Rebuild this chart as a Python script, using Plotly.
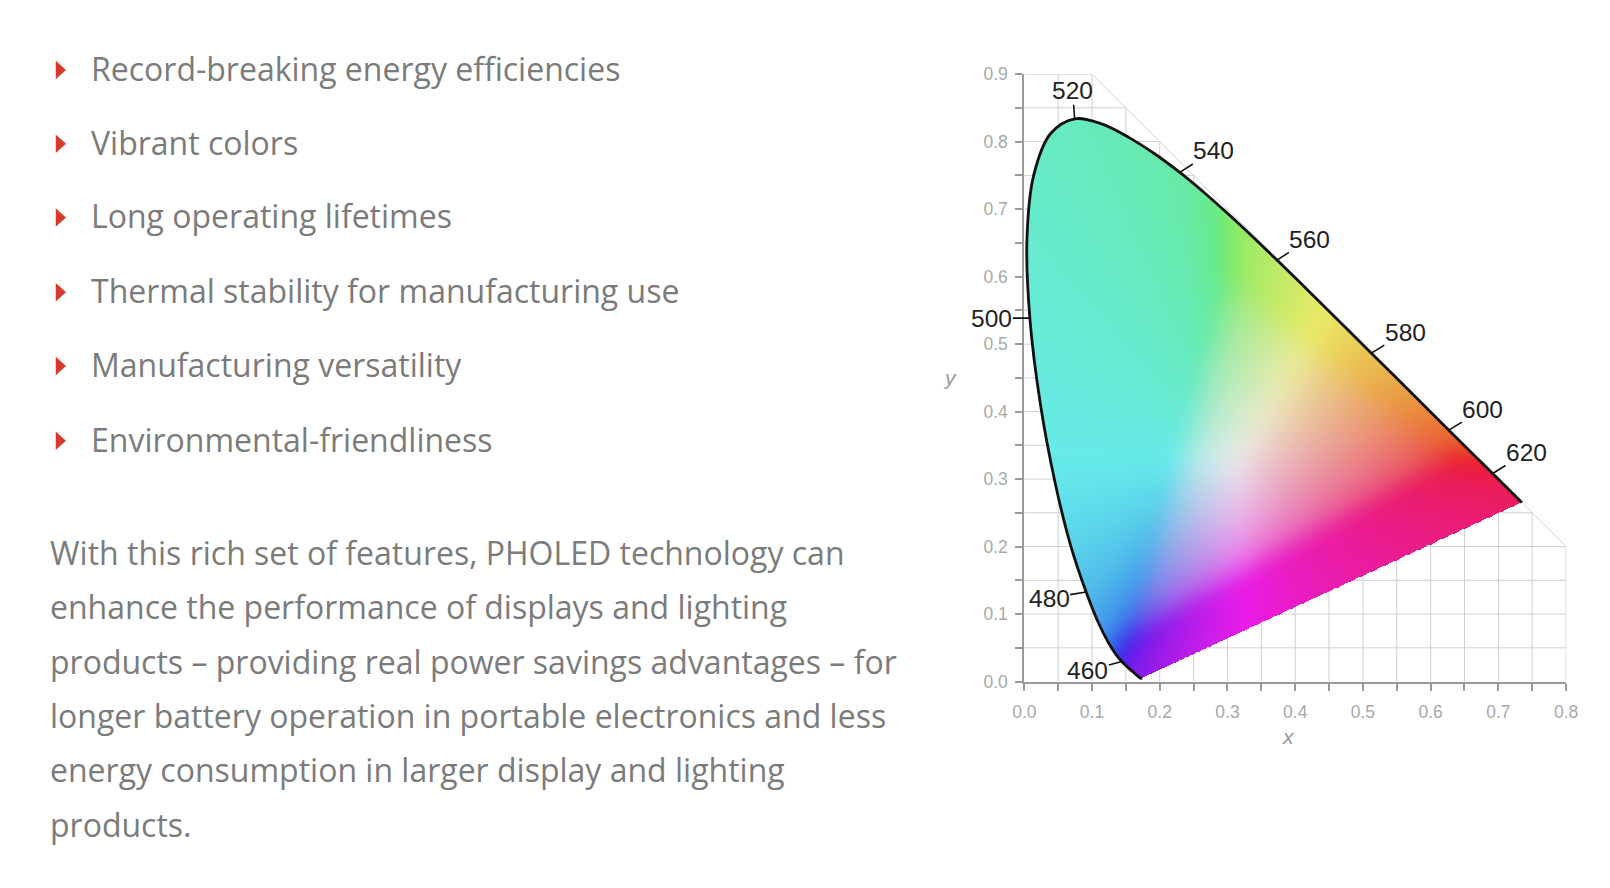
import base64
import struct
import zlib

import numpy as np
import plotly.graph_objects as go

W, H, OFF = 1600, 880, 8

# CIE 1931 2-degree spectral locus, 5 nm steps
wavelength = list(range(380, 705, 5))
cie_x = [0.1741, 0.1740, 0.1738, 0.1736, 0.1733, 0.1730, 0.1726, 0.1721, 0.1714, 0.1703,
         0.1689, 0.1669, 0.1644, 0.1611, 0.1566, 0.1510, 0.1440, 0.1355, 0.1241, 0.1096,
         0.0913, 0.0687, 0.0454, 0.0235, 0.0082, 0.0039, 0.0139, 0.0389, 0.0743, 0.1142,
         0.1547, 0.1929, 0.2296, 0.2658, 0.3016, 0.3373, 0.3731, 0.4087, 0.4441, 0.4788,
         0.5125, 0.5448, 0.5752, 0.6029, 0.6270, 0.6482, 0.6658, 0.6801, 0.6915, 0.7006,
         0.7079, 0.7140, 0.7190, 0.7230, 0.7260, 0.7283, 0.7300, 0.7311, 0.7320, 0.7327,
         0.7334, 0.7340, 0.7344, 0.7346, 0.7347]
cie_y = [0.0050, 0.0050, 0.0049, 0.0049, 0.0048, 0.0048, 0.0048, 0.0048, 0.0051, 0.0058,
         0.0069, 0.0086, 0.0109, 0.0138, 0.0177, 0.0227, 0.0297, 0.0399, 0.0578, 0.0868,
         0.1327, 0.2007, 0.2950, 0.4127, 0.5384, 0.6548, 0.7502, 0.8120, 0.8338, 0.8262,
         0.8059, 0.7816, 0.7543, 0.7243, 0.6923, 0.6589, 0.6245, 0.5896, 0.5547, 0.5202,
         0.4866, 0.4544, 0.4242, 0.3965, 0.3725, 0.3514, 0.3340, 0.3197, 0.3083, 0.2993,
         0.2920, 0.2859, 0.2809, 0.2770, 0.2740, 0.2717, 0.2700, 0.2689, 0.2680, 0.2673,
         0.2666, 0.2660, 0.2656, 0.2654, 0.2653]

label_nm = [460, 480, 500, 520, 540, 560, 580, 600, 620]
label_shift = [(-34, 9), (-37, 6), (-38, 0), (-2, -28), (34, -22), (33, -21), (34, -21), (34, -21), (34, -21)]

grid_step = [round(0.05 * k, 2) for k in range(1, 19)]

bullets = ["Record-breaking energy efficiencies",
           "Vibrant colors",
           "Long operating lifetimes",
           "Thermal stability for manufacturing use",
           "Manufacturing versatility",
           "Environmental-friendliness"]
bullet_y = [66, 138, 210, 283, 355, 428]

para = ["With this rich set of features, PHOLED technology can",
        "enhance the performance of displays and lighting",
        "products \u2013 providing real power savings advantages \u2013 for",
        "longer battery operation in portable electronics and less",
        "energy consumption in larger display and lighting",
        "products."]
para_y = [539, 592, 645, 698, 751, 804]


# positions below are in screenshot pixels; mapped to paper with a measured offset/scale
def px(x):
    return ((x - 9.5) / 0.96 - OFF) / W


def py(y):
    return 1 - ((y - 7.6) / 0.954 - OFF) / H


# colour fill of the gamut, rendered as a png
res = 0.00125
gx = (np.arange(int(round(0.8 / res))) + 0.5) * res
gy = (np.arange(int(round(0.9 / res))) + 0.5) * res
GX, GY = np.meshgrid(gx, gy)

# smooth outline for the mask (catmull-rom through the locus points)
pts = np.column_stack([cie_x, cie_y])
sx, sy = [], []
for i in range(len(pts) - 1):
    p0 = pts[max(i - 1, 0)]
    p1, p2 = pts[i], pts[i + 1]
    p3 = pts[min(i + 2, len(pts) - 1)]
    for t in np.linspace(0, 1, 8, endpoint=False):
        c = 0.5 * (2 * p1 + (p2 - p0) * t + (2 * p0 - 5 * p1 + 4 * p2 - p3) * t ** 2
                   + (3 * p1 - p0 - 3 * p2 + p3) * t ** 3)
        sx.append(c[0])
        sy.append(c[1])
sx.append(cie_x[-1])
sy.append(cie_y[-1])

inside = np.zeros(GX.shape, bool)
n = len(sx)
j = n - 1
for i in range(n):
    xi, yi, xj, yj = sx[i], sy[i], sx[j], sy[j]
    cross = (yi > GY) != (yj > GY)
    xint = (xj - xi) * (GY - yi) / (yj - yi + 1e-12) + xi
    inside ^= cross & (GX < xint)
    j = i

yy = np.maximum(GY, 2e-3)
XX = GX / yy
ZZ = (1 - GX - GY) / yy
M = np.array([[3.2406, -1.5372, -0.4986],
              [-0.9689, 1.8758, 0.0415],
              [0.0557, -0.2040, 1.0570]])
rgb = np.stack([M[k, 0] * XX + M[k, 1] + M[k, 2] * ZZ for k in range(3)], -1)
rgb -= np.minimum(rgb.min(-1), 0)[..., None]
rgb /= rgb.max(-1, keepdims=True)
srgb = np.where(rgb <= 0.0031308, 12.92 * rgb, 1.055 * np.power(rgb, 1 / 2.4) - 0.055)
mix = 0.12 + 0.32 * srgb[..., 1:2]
srgb = (srgb * (1 - mix) + mix) * 0.92


def blur(a, s):
    r = int(3 * s)
    k = np.exp(-0.5 * (np.arange(-r, r + 1) / s) ** 2)
    k /= k.sum()
    p = np.pad(a, ((r, r), (0, 0), (0, 0)), mode="edge")
    a = sum(k[i] * p[i:i + a.shape[0]] for i in range(2 * r + 1))
    p = np.pad(a, ((0, 0), (r, r), (0, 0)), mode="edge")
    return sum(k[i] * p[:, i:i + a.shape[1]] for i in range(2 * r + 1))


srgb = blur(srgb, 11)
img = np.zeros(GX.shape + (4,), np.uint8)
img[..., :3] = np.clip(srgb * 255, 0, 255).astype(np.uint8)
img[..., 3] = np.where(inside, 255, 0)


def png_uri(a):
    h, w, _ = a.shape
    f = a.copy()
    f[:, 1:, :] = a[:, 1:, :] - a[:, :-1, :]
    raw = b"".join(b"\x01" + f[r].tobytes() for r in range(h))

    def chunk(tag, data):
        return (struct.pack(">I", len(data)) + tag + data
                + struct.pack(">I", zlib.crc32(tag + data) & 0xffffffff))

    png = (b"\x89PNG\r\n\x1a\n"
           + chunk(b"IHDR", struct.pack(">IIBBBBB", w, h, 8, 6, 0, 0, 0))
           + chunk(b"IDAT", zlib.compress(raw, 9))
           + chunk(b"IEND", b""))
    return "data:image/png;base64," + base64.b64encode(png).decode()


fig = go.Figure()
fig.add_trace(go.Image(source=png_uri(img), x0=res / 2, y0=res / 2, dx=res, dy=res,
                       hoverinfo="skip"))
fig.add_trace(go.Scatter(x=cie_x, y=cie_y, mode="lines",
                         line=dict(color="#111111", width=2.8, shape="spline", smoothing=1),
                         hoverinfo="skip", showlegend=False))

# grid clipped to x + y <= 1, drawn under the image
grid = dict(type="line", xref="x", yref="y", layer="below", line=dict(color="#cfcfcf", width=1))
for v in grid_step:
    if v <= 0.8:
        fig.add_shape(x0=v, x1=v, y0=0, y1=min(0.9, 1 - v), **grid)
    if v <= 0.9:
        fig.add_shape(x0=0, x1=min(0.8, 1 - v), y0=v, y1=v, **grid)
fig.add_shape(x0=0.1, x1=0.8, y0=0.9, y1=0.2, **grid)

for nm, (ax, ay) in zip(label_nm, label_shift):
    k = wavelength.index(nm)
    fig.add_annotation(x=cie_x[k], y=cie_y[k], xref="x", yref="y", text=str(nm),
                       showarrow=True, arrowhead=0, arrowwidth=1.6, arrowcolor="#111111",
                       ax=ax, ay=ay, standoff=0, borderpad=0,
                       font=dict(family="Liberation Sans, Arial", size=24.5, color="#222222"))

txt = dict(family="Open Sans", size=32, color="#7b7b7b")
for t, y in zip(bullets, bullet_y):
    fig.add_annotation(x=px(84), y=py(y - 1.5), xref="paper", yref="paper", text=t,
                       showarrow=False, xanchor="left", yanchor="middle", font=txt)
    fig.add_shape(type="path", xref="paper", yref="paper", fillcolor="#d63a2f", line_width=0,
                  path=f"M {px(52)} {py(y - 9)} L {px(62)} {py(y)} L {px(52)} {py(y + 9)} Z")
for t, y in zip(para, para_y):
    fig.add_annotation(x=px(44.5), y=py(y - 1.8), xref="paper", yref="paper", text=t,
                       showarrow=False, xanchor="left", yanchor="middle", font=txt)

axt = dict(family="Liberation Sans, Arial", size=21, color="#9a9a9a")
fig.add_annotation(x=px(1262), y=py(730), xref="paper", yref="paper", text="<i>x</i>",
                   showarrow=False, font=axt)
fig.add_annotation(x=px(924), y=py(366), xref="paper", yref="paper", text="<i>y</i>",
                   showarrow=False, font=axt)

tickstyle = dict(showgrid=False, zeroline=False, showline=True, linecolor="#9a9a9a", linewidth=2,
                 ticks="outside", ticklen=7, tickwidth=1.5, tickcolor="#9a9a9a",
                 tick0=0, dtick=0.1, tickformat=".1f",
                 tickfont=dict(family="Liberation Sans, Arial", size=17.5, color="#a8a8a8"),
                 minor=dict(dtick=0.05, ticks="outside", ticklen=7, tickwidth=1.5,
                            tickcolor="#9a9a9a", showgrid=False),
                 fixedrange=True)
fig.update_xaxes(domain=[px(996), px(1524)], range=[0, 0.8], autorange=False,
                 ticklabelstandoff=6, **tickstyle)
fig.update_yaxes(domain=[py(663), py(70)], range=[0, 0.9], autorange=False,
                 scaleanchor=False, ticklabelstandoff=4, **tickstyle)

fig.update_layout(width=W, height=H, margin=dict(l=0, r=0, t=0, b=0),
                  paper_bgcolor="white", plot_bgcolor="white", showlegend=False)

fig.write_html("out.html")
